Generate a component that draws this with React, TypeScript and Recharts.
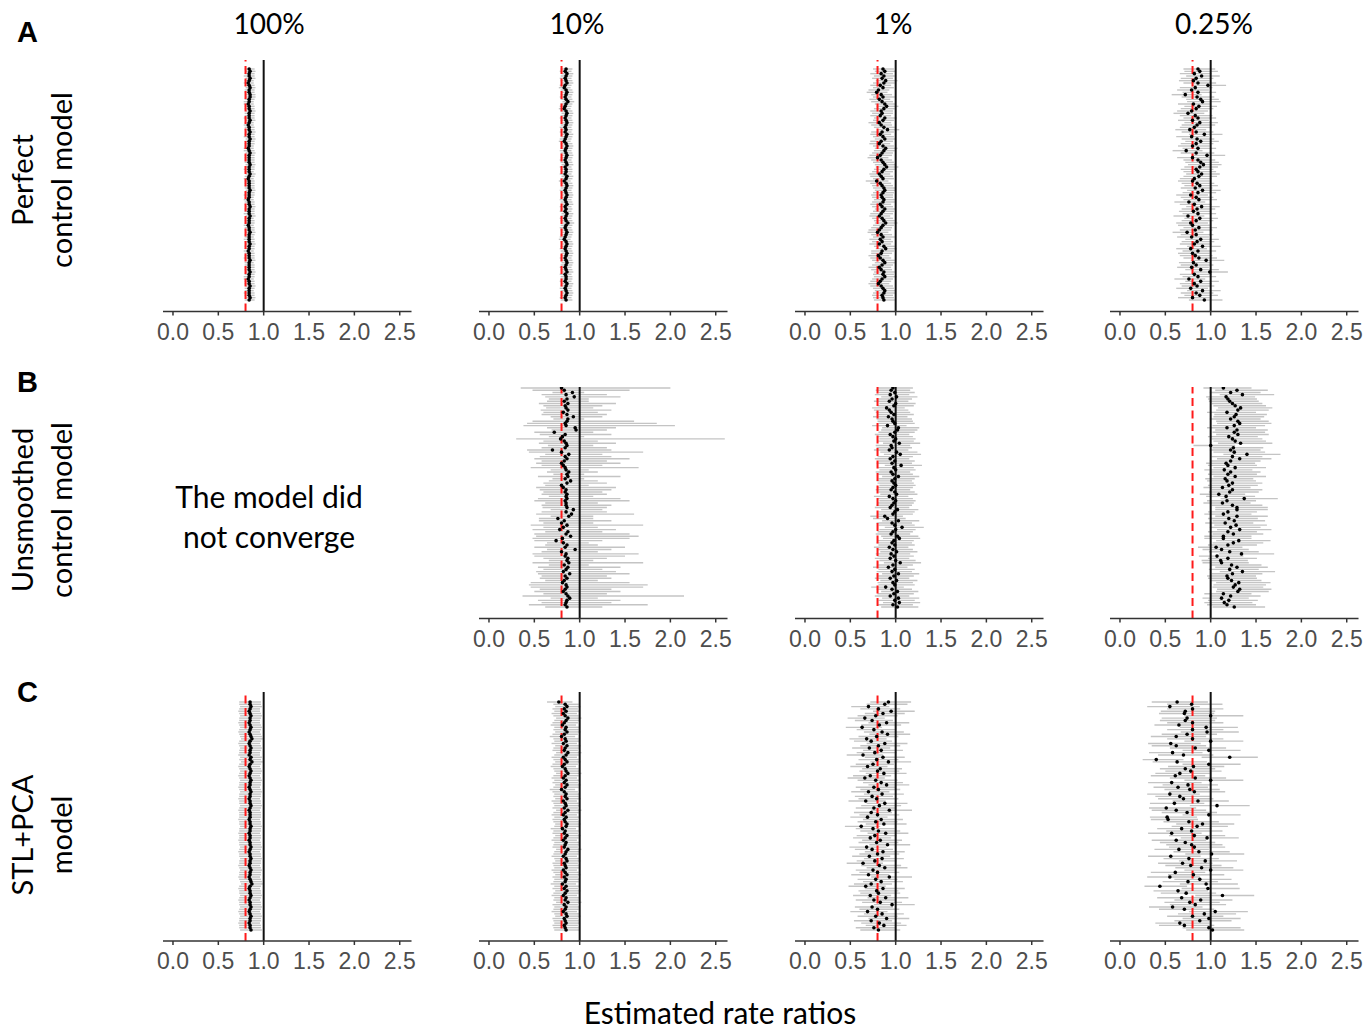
import React from 'react';
import { ScatterChart, Scatter, XAxis, YAxis, ErrorBar, ReferenceLine } from 'recharts';

// axis + reference values
const xTicks = [0, 0.5, 1, 1.5, 2, 2.5];
const nullRatio = 1;
const trueRatio = 0.8;

const columnTitles = ['100%', '10%', '1%', '0.25%'];
const rowLetters = ['A', 'B', 'C'];
const rowTitles = [
  ['Perfect', 'control model'],
  ['Unsmoothed', 'control model'],
  ['STL+PCA', 'model'],
];
const noFitText = ['The model did', 'not converge'];
const xLabel = 'Estimated rate ratios';

// ---- A: perfect control model ----
const perfect100Est = [
  0.84,0.85,0.84,0.84,0.85,0.84,0.83,0.84,0.85,0.84, 0.84,0.85,0.85,0.84,0.84,0.83,0.84,0.84,0.85,0.84,
  0.84,0.84,0.85,0.84,0.83,0.84,0.84,0.85,0.84,0.84, 0.85,0.84,0.84,0.84,0.83,0.84,0.85,0.84,0.84,0.84,
  0.84,0.85,0.84,0.84,0.84,0.85,0.84,0.83,0.84,0.84, 0.84,0.84,0.85,0.84,0.84,0.84,0.83,0.84,0.84,0.85,
  0.84,0.84,0.84,0.85,0.84,0.84,0.84,0.83,0.84,0.84, 0.85,0.84,0.84,0.84,0.84,0.85,0.84,0.84,0.83,0.84,
  0.84,0.84,0.85,0.84,0.84,0.84,0.84,0.85,0.84,0.84, 0.83,0.84,0.84,0.85,0.84,0.84,0.84,0.84,0.85,0.84,
];
const perfect100Lo = [
  0.79,0.80,0.79,0.78,0.80,0.79,0.78,0.79,0.80,0.79, 0.79,0.80,0.80,0.79,0.78,0.78,0.79,0.79,0.80,0.79,
  0.79,0.78,0.80,0.79,0.78,0.79,0.79,0.80,0.79,0.78, 0.80,0.79,0.79,0.79,0.78,0.78,0.80,0.79,0.79,0.79,
  0.79,0.80,0.79,0.78,0.79,0.80,0.79,0.78,0.79,0.79, 0.79,0.79,0.80,0.79,0.78,0.79,0.78,0.79,0.79,0.80,
  0.79,0.79,0.78,0.80,0.79,0.79,0.79,0.78,0.79,0.79, 0.80,0.79,0.79,0.78,0.79,0.80,0.79,0.79,0.78,0.79,
  0.79,0.78,0.80,0.79,0.79,0.79,0.79,0.80,0.79,0.78, 0.78,0.79,0.79,0.80,0.79,0.79,0.78,0.79,0.80,0.79,
];
const perfect100Hi = [
  0.90,0.91,0.90,0.90,0.91,0.89,0.89,0.90,0.91,0.90, 0.90,0.91,0.91,0.90,0.89,0.89,0.90,0.90,0.91,0.90,
  0.90,0.90,0.91,0.89,0.89,0.90,0.90,0.91,0.90,0.90, 0.91,0.90,0.90,0.89,0.89,0.90,0.91,0.90,0.90,0.90,
  0.90,0.91,0.90,0.90,0.89,0.91,0.90,0.89,0.90,0.90, 0.90,0.90,0.91,0.90,0.90,0.89,0.89,0.90,0.90,0.91,
  0.90,0.90,0.90,0.91,0.89,0.90,0.90,0.89,0.90,0.90, 0.91,0.90,0.89,0.90,0.90,0.91,0.90,0.90,0.89,0.90,
  0.90,0.90,0.91,0.89,0.90,0.90,0.90,0.91,0.90,0.90, 0.89,0.90,0.90,0.91,0.90,0.89,0.90,0.90,0.91,0.90,
];

const perfect10Est = [
  0.85,0.84,0.86,0.85,0.84,0.85,0.86,0.84,0.83,0.85, 0.86,0.85,0.84,0.85,0.87,0.85,0.84,0.83,0.85,0.86,
  0.85,0.84,0.85,0.86,0.85,0.84,0.85,0.84,0.86,0.85, 0.84,0.83,0.85,0.86,0.85,0.84,0.85,0.86,0.85,0.84,
  0.85,0.86,0.84,0.85,0.85,0.84,0.86,0.85,0.83,0.85, 0.86,0.85,0.84,0.85,0.86,0.85,0.84,0.85,0.86,0.84,
  0.85,0.84,0.86,0.85,0.84,0.85,0.87,0.85,0.84,0.85, 0.86,0.85,0.84,0.83,0.85,0.86,0.85,0.84,0.85,0.86,
  0.85,0.84,0.85,0.86,0.85,0.84,0.85,0.86,0.84,0.85, 0.85,0.84,0.86,0.85,0.84,0.85,0.86,0.85,0.84,0.85,
];
const perfect10Lo = [
  0.79,0.78,0.80,0.79,0.78,0.79,0.80,0.78,0.77,0.79, 0.80,0.79,0.78,0.79,0.81,0.79,0.78,0.77,0.79,0.80,
  0.79,0.78,0.79,0.80,0.79,0.78,0.79,0.78,0.80,0.79, 0.78,0.77,0.79,0.80,0.79,0.78,0.79,0.80,0.79,0.78,
  0.79,0.80,0.78,0.79,0.79,0.78,0.80,0.79,0.77,0.79, 0.80,0.79,0.78,0.79,0.80,0.79,0.78,0.79,0.80,0.78,
  0.79,0.78,0.80,0.79,0.78,0.79,0.81,0.79,0.78,0.79, 0.80,0.79,0.78,0.77,0.79,0.80,0.79,0.78,0.79,0.80,
  0.79,0.78,0.79,0.80,0.79,0.78,0.79,0.80,0.78,0.79, 0.79,0.78,0.80,0.79,0.78,0.79,0.80,0.79,0.78,0.79,
];
const perfect10Hi = [
  0.92,0.91,0.93,0.92,0.91,0.92,0.93,0.91,0.90,0.92, 0.93,0.92,0.91,0.92,0.94,0.92,0.91,0.90,0.92,0.93,
  0.92,0.91,0.92,0.93,0.92,0.91,0.92,0.91,0.93,0.92, 0.91,0.90,0.92,0.93,0.92,0.91,0.92,0.93,0.92,0.91,
  0.92,0.93,0.91,0.92,0.92,0.91,0.93,0.92,0.90,0.92, 0.93,0.92,0.91,0.92,0.93,0.92,0.91,0.92,0.93,0.91,
  0.92,0.91,0.93,0.92,0.91,0.92,0.94,0.92,0.91,0.92, 0.93,0.92,0.91,0.90,0.92,0.93,0.92,0.91,0.92,0.93,
  0.92,0.91,0.92,0.93,0.92,0.91,0.92,0.93,0.91,0.92, 0.92,0.91,0.93,0.92,0.91,0.92,0.93,0.92,0.91,0.92,
];

const perfect1Est = [
  0.86,0.88,0.84,0.87,0.85,0.89,0.87,0.83,0.86,0.81, 0.79,0.84,0.86,0.82,0.85,0.88,0.90,0.87,0.84,0.85,
  0.83,0.88,0.86,0.82,0.84,0.87,0.91,0.85,0.83,0.86, 0.88,0.84,0.82,0.86,0.89,0.87,0.85,0.83,0.80,0.84,
  0.86,0.88,0.90,0.87,0.85,0.82,0.84,0.86,0.79,0.83, 0.85,0.87,0.88,0.86,0.84,0.85,0.87,0.86,0.83,0.85,
  0.88,0.86,0.84,0.82,0.85,0.87,0.89,0.86,0.84,0.82, 0.80,0.84,0.86,0.83,0.85,0.82,0.87,0.89,0.85,0.84,
  0.81,0.83,0.86,0.88,0.85,0.82,0.84,0.87,0.86,0.88, 0.85,0.83,0.81,0.84,0.86,0.88,0.87,0.85,0.86,0.87,
];
const perfect1Lo = [
  0.75,0.77,0.72,0.76,0.74,0.78,0.75,0.72,0.75,0.70, 0.68,0.73,0.75,0.71,0.73,0.77,0.79,0.76,0.72,0.74,
  0.72,0.76,0.75,0.70,0.73,0.76,0.80,0.73,0.72,0.75, 0.77,0.72,0.71,0.75,0.77,0.76,0.74,0.71,0.69,0.73,
  0.75,0.77,0.78,0.76,0.74,0.71,0.72,0.75,0.67,0.72, 0.74,0.75,0.77,0.75,0.73,0.74,0.76,0.74,0.72,0.74,
  0.77,0.75,0.72,0.71,0.74,0.76,0.77,0.75,0.73,0.70, 0.69,0.73,0.75,0.71,0.74,0.71,0.76,0.78,0.73,0.73,
  0.70,0.72,0.74,0.77,0.74,0.70,0.73,0.76,0.75,0.76, 0.74,0.72,0.70,0.72,0.75,0.77,0.75,0.74,0.75,0.76,
];
const perfect1Hi = [
  0.98,1.00,0.97,0.99,0.97,1.02,0.99,0.95,0.98,0.93, 0.91,0.96,0.99,0.94,0.97,1.00,1.03,0.99,0.97,0.97,
  0.95,1.01,0.98,0.95,0.96,0.99,1.04,0.98,0.95,0.98, 1.00,0.97,0.94,0.98,1.02,0.99,0.97,0.96,0.92,0.96,
  0.98,1.00,1.03,0.99,0.97,0.94,0.97,0.98,0.92,0.95, 0.97,1.00,1.00,0.98,0.97,0.97,0.99,0.99,0.95,0.97,
  1.00,0.98,0.97,0.94,0.97,0.99,1.02,0.98,0.96,0.95, 0.92,0.96,0.99,0.95,0.97,0.95,0.99,1.01,0.98,0.96,
  0.93,0.95,0.99,1.00,0.97,0.95,0.96,0.99,0.98,1.01, 0.97,0.95,0.93,0.97,0.98,1.00,1.00,0.97,0.98,0.99,
];

const perfect025Est = [
  0.86,0.88,0.82,0.90,0.84,0.81,0.86,0.97,0.83,0.79, 0.86,0.72,0.85,0.89,0.91,0.81,0.87,0.84,0.79,0.75,
  0.83,0.86,0.80,0.88,0.85,0.82,0.77,0.84,0.93,0.79, 0.85,0.89,0.84,0.80,0.86,0.73,0.84,0.96,0.80,0.86,
  0.89,0.92,0.88,0.84,0.86,0.90,0.87,0.82,0.80,0.85, 0.88,0.83,0.91,0.86,0.78,0.84,0.87,0.76,0.82,0.90,
  0.85,0.81,0.86,0.75,0.88,0.84,0.78,0.80,0.87,0.83, 0.74,0.84,0.79,0.89,0.85,0.82,0.91,0.78,0.86,0.80,
  0.83,0.87,0.95,0.81,0.84,0.79,0.89,0.99,0.82,0.86, 0.76,0.89,0.82,0.85,0.78,0.91,0.84,0.88,0.80,0.93,
];
const perfect025Lo = [
  0.70,0.71,0.66,0.73,0.67,0.65,0.70,0.80,0.66,0.63, 0.69,0.57,0.68,0.73,0.74,0.64,0.71,0.67,0.63,0.59,
  0.66,0.70,0.64,0.71,0.68,0.66,0.61,0.68,0.76,0.62, 0.68,0.72,0.67,0.64,0.69,0.58,0.67,0.79,0.63,0.70,
  0.72,0.75,0.71,0.67,0.70,0.73,0.70,0.66,0.64,0.68, 0.71,0.67,0.74,0.69,0.62,0.67,0.70,0.60,0.66,0.73,
  0.68,0.65,0.69,0.59,0.71,0.68,0.62,0.64,0.70,0.66, 0.58,0.67,0.63,0.72,0.68,0.66,0.74,0.62,0.69,0.64,
  0.66,0.70,0.78,0.65,0.67,0.63,0.72,0.81,0.66,0.69, 0.60,0.72,0.66,0.68,0.62,0.74,0.67,0.71,0.64,0.76,
];
const perfect025Hi = [
  1.05,1.08,1.01,1.10,1.03,0.99,1.06,1.17,1.02,0.98, 1.06,0.90,1.04,1.09,1.11,1.00,1.07,1.03,0.97,0.93,
  1.02,1.06,0.98,1.08,1.05,1.01,0.95,1.03,1.13,0.98, 1.04,1.09,1.03,0.99,1.06,0.91,1.04,1.16,0.99,1.05,
  1.09,1.12,1.08,1.03,1.06,1.10,1.07,1.01,0.99,1.04, 1.08,1.02,1.11,1.06,0.97,1.03,1.07,0.94,1.01,1.10,
  1.05,1.00,1.06,0.93,1.08,1.03,0.97,0.99,1.07,1.02, 0.92,1.03,0.98,1.09,1.04,1.01,1.11,0.96,1.06,0.99,
  1.02,1.07,1.15,1.00,1.03,0.98,1.09,1.19,1.01,1.06, 0.94,1.09,1.01,1.04,0.97,1.11,1.03,1.08,0.99,1.13,
];

// ---- B: unsmoothed control model (100% did not converge) ----
const unsmoothed10Est = [
  0.80,0.83,0.92,0.85,0.94,0.86,0.83,0.87,0.84,0.85, 0.87,0.82,0.86,0.93,0.87,0.86,0.84,0.85,0.95,0.96,
  0.72,0.84,0.81,0.79,0.83,0.85,0.86,0.84,0.70,0.80, 0.88,0.84,0.86,0.83,0.80,0.82,0.84,0.85,0.88,0.86,
  0.87,0.84,0.90,0.86,0.80,0.82,0.85,0.84,0.86,0.85, 0.86,0.84,0.85,0.85,0.86,0.93,0.85,0.91,0.88,0.76,
  0.83,0.80,0.86,0.82,0.78,0.87,0.85,0.90,0.81,0.74, 0.82,0.86,0.84,0.95,0.80,0.85,0.84,0.87,0.86,0.88,
  0.83,0.87,0.85,0.82,0.89,0.84,0.86,0.83,0.81,0.85, 0.86,0.84,0.82,0.85,0.87,0.89,0.86,0.85,0.84,0.86,
];
const unsmoothed10Lo = [
  0.35,0.48,0.70,0.58,0.62,0.66,0.64,0.55,0.60,0.63, 0.57,0.60,0.58,0.68,0.71,0.48,0.42,0.38,0.64,0.69,
  0.50,0.56,0.66,0.30,0.60,0.55,0.65,0.58,0.42,0.44, 0.62,0.56,0.50,0.58,0.52,0.58,0.46,0.68,0.64,0.71,
  0.54,0.70,0.66,0.60,0.62,0.52,0.56,0.60,0.58,0.66, 0.54,0.50,0.62,0.58,0.59,0.68,0.58,0.52,0.68,0.55,
  0.55,0.60,0.46,0.60,0.48,0.62,0.50,0.52,0.48,0.50, 0.64,0.62,0.50,0.64,0.58,0.48,0.50,0.60,0.66,0.48,
  0.66,0.54,0.60,0.52,0.54,0.58,0.56,0.62,0.46,0.44, 0.46,0.56,0.50,0.60,0.37,0.68,0.54,0.58,0.44,0.62,
];
const unsmoothed10Hi = [
  2.00,1.55,1.05,1.30,1.45,1.10,1.10,1.40,1.25,1.15, 1.35,1.20,1.30,1.25,1.05,1.60,1.85,2.05,1.40,1.30,
  1.15,1.35,1.05,2.60,1.20,1.40,1.15,1.30,1.35,1.70, 1.25,1.35,1.55,1.30,1.45,1.25,1.65,1.10,1.20,1.05,
  1.45,1.05,1.20,1.30,1.10,1.40,1.35,1.25,1.30,1.15, 1.45,1.55,1.20,1.35,1.30,1.25,1.30,1.60,1.15,1.15,
  1.35,1.15,1.70,1.20,1.40,1.25,1.55,1.65,1.55,1.25, 1.10,1.20,1.50,1.35,1.20,1.65,1.50,1.30,1.15,1.70,
  1.10,1.45,1.25,1.40,1.55,1.30,1.35,1.20,1.55,1.75, 1.70,1.35,1.45,1.30,2.15,1.20,1.45,1.35,1.75,1.25,
];

const unsmoothed1Est = [
  0.97,0.95,0.99,0.94,1.01,0.96,0.93,1.00,0.98,0.90, 0.93,0.95,0.98,0.92,0.96,0.97,0.99,0.91,1.03,1.02,
  0.99,0.94,0.97,1.00,0.98,1.04,0.95,0.96,0.93,1.01, 1.05,0.97,0.94,0.99,0.96,1.06,0.98,1.00,0.95,0.97,
  1.03,0.99,0.96,0.98,1.00,0.97,0.95,0.99,1.01,0.93, 0.97,1.00,0.98,0.96,0.94,1.02,0.99,0.97,0.88,0.91,
  1.03,0.96,0.99,1.07,1.00,0.97,0.95,1.02,1.04,0.98, 0.96,0.99,0.93,0.97,1.01,0.95,0.98,0.94,1.00,1.05,
  0.97,0.92,0.99,0.96,1.03,0.98,0.94,1.01,0.97,0.99, 0.89,0.96,1.02,0.98,0.94,1.03,0.99,1.04,0.97,1.02,
];
const unsmoothed1Lo = [
  0.80,0.78,0.81,0.77,0.84,0.79,0.76,0.82,0.80,0.74, 0.76,0.78,0.80,0.75,0.79,0.80,0.81,0.74,0.85,0.84,
  0.81,0.77,0.80,0.82,0.80,0.86,0.78,0.79,0.76,0.83, 0.87,0.80,0.77,0.81,0.79,0.88,0.80,0.82,0.78,0.80,
  0.85,0.81,0.79,0.80,0.82,0.80,0.78,0.81,0.83,0.76, 0.80,0.82,0.80,0.79,0.77,0.84,0.81,0.80,0.72,0.75,
  0.85,0.79,0.81,0.88,0.82,0.80,0.78,0.84,0.86,0.80, 0.79,0.81,0.76,0.80,0.83,0.78,0.80,0.77,0.82,0.87,
  0.80,0.75,0.81,0.79,0.85,0.80,0.77,0.83,0.80,0.81, 0.73,0.79,0.84,0.80,0.77,0.85,0.81,0.86,0.80,0.84,
];
const unsmoothed1Hi = [
  1.19,1.16,1.21,1.15,1.24,1.18,1.14,1.22,1.20,1.10, 1.14,1.16,1.20,1.13,1.18,1.19,1.21,1.12,1.26,1.24,
  1.21,1.15,1.19,1.22,1.20,1.27,1.16,1.18,1.14,1.24, 1.28,1.19,1.15,1.21,1.18,1.29,1.20,1.22,1.16,1.19,
  1.26,1.21,1.18,1.20,1.22,1.19,1.16,1.21,1.24,1.14, 1.19,1.22,1.20,1.18,1.15,1.25,1.21,1.19,1.08,1.11,
  1.26,1.18,1.21,1.31,1.22,1.19,1.16,1.25,1.27,1.20, 1.18,1.21,1.14,1.19,1.24,1.16,1.20,1.15,1.22,1.28,
  1.19,1.13,1.21,1.18,1.26,1.20,1.15,1.24,1.19,1.21, 1.09,1.18,1.25,1.20,1.15,1.26,1.21,1.27,1.19,1.25,
];

const unsmoothed025Est = [
  1.14,1.29,1.22,1.35,1.17,1.19,1.21,1.24,1.27,1.33, 1.30,1.18,1.28,1.26,1.22,1.30,1.32,1.26,1.18,1.29,
  1.26,1.30,1.20,1.24,1.27,1.33,1.00,1.25,1.22,1.26, 1.40,1.24,1.32,1.22,1.17,1.19,1.27,1.15,1.22,1.19,
  1.27,1.16,1.18,1.24,1.20,1.13,1.24,1.21,1.09,1.17, 1.37,1.18,1.13,1.24,1.29,1.29,1.19,1.14,1.29,1.20,
  1.26,1.16,1.28,1.22,1.32,1.19,1.25,1.14,1.14,1.31, 1.25,1.19,1.06,1.12,1.21,1.34,1.07,1.19,1.11,1.12,
  1.23,1.29,1.21,1.35,1.24,1.18,1.19,1.23,1.31,1.27, 1.25,1.32,1.30,1.14,1.22,1.12,1.20,1.15,1.18,1.26,
];
const unsmoothed025Lo = [
  0.92,1.05,0.99,1.10,0.95,0.97,0.98,1.01,1.03,1.08, 1.06,0.96,1.04,1.03,0.99,1.06,1.07,1.02,0.96,1.05,
  1.02,1.06,0.97,1.01,1.03,1.08,0.81,1.02,0.99,1.03, 1.14,1.01,1.07,0.99,0.95,0.97,1.03,0.93,0.99,0.97,
  1.03,0.94,0.96,1.01,0.97,0.92,1.01,0.98,0.88,0.95, 1.11,0.96,0.92,1.01,1.05,1.05,0.97,0.93,1.05,0.97,
  1.02,0.94,1.04,0.99,1.07,0.97,1.02,0.93,0.93,1.06, 1.02,0.97,0.86,0.91,0.98,1.09,0.87,0.97,0.90,0.91,
  1.00,1.05,0.98,1.10,1.01,0.96,0.97,1.00,1.06,1.03, 1.02,1.07,1.06,0.93,0.99,0.91,0.97,0.93,0.96,1.02,
];
const unsmoothed025Hi = [
  1.45,1.63,1.55,1.70,1.49,1.51,1.53,1.57,1.61,1.68, 1.64,1.50,1.62,1.59,1.55,1.64,1.67,1.60,1.50,1.63,
  1.60,1.64,1.52,1.57,1.61,1.68,1.27,1.58,1.55,1.60, 1.77,1.57,1.67,1.55,1.49,1.51,1.61,1.46,1.55,1.51,
  1.61,1.47,1.50,1.57,1.52,1.44,1.57,1.53,1.38,1.49, 1.74,1.50,1.44,1.57,1.63,1.63,1.51,1.45,1.63,1.52,
  1.60,1.47,1.62,1.55,1.67,1.51,1.58,1.45,1.45,1.66, 1.58,1.51,1.35,1.42,1.53,1.70,1.36,1.51,1.41,1.42,
  1.56,1.63,1.53,1.71,1.57,1.50,1.51,1.56,1.66,1.61, 1.58,1.67,1.64,1.45,1.55,1.42,1.52,1.46,1.50,1.60,
];

// ---- C: STL+PCA model ----
const stlpca100Est = [
  0.85,0.85,0.86,0.85,0.84,0.85,0.86,0.85,0.85,0.84, 0.85,0.86,0.85,0.84,0.85,0.86,0.87,0.85,0.84,0.85,
  0.86,0.85,0.85,0.84,0.86,0.85,0.87,0.85,0.84,0.85, 0.86,0.85,0.84,0.85,0.86,0.85,0.85,0.84,0.85,0.86,
  0.85,0.85,0.84,0.85,0.85,0.86,0.85,0.84,0.85,0.85, 0.85,0.84,0.85,0.85,0.86,0.85,0.85,0.84,0.85,0.85,
  0.84,0.85,0.85,0.86,0.85,0.84,0.85,0.85,0.86,0.85, 0.85,0.84,0.85,0.86,0.85,0.85,0.84,0.85,0.86,0.87,
  0.85,0.84,0.85,0.85,0.86,0.85,0.84,0.85,0.85,0.86, 0.85,0.84,0.85,0.86,0.85,0.85,0.84,0.85,0.85,0.86,
];
const stlpca100Lo = [
  0.73,0.73,0.74,0.73,0.72,0.73,0.74,0.73,0.73,0.72, 0.73,0.74,0.73,0.72,0.73,0.74,0.75,0.73,0.72,0.73,
  0.74,0.73,0.73,0.72,0.74,0.73,0.75,0.73,0.72,0.73, 0.74,0.73,0.72,0.73,0.74,0.73,0.73,0.72,0.73,0.74,
  0.73,0.73,0.72,0.73,0.73,0.74,0.73,0.72,0.73,0.73, 0.73,0.72,0.73,0.73,0.74,0.73,0.73,0.72,0.73,0.73,
  0.72,0.73,0.73,0.74,0.73,0.72,0.73,0.73,0.74,0.73, 0.73,0.72,0.73,0.74,0.73,0.73,0.72,0.73,0.74,0.75,
  0.73,0.72,0.73,0.73,0.74,0.73,0.72,0.73,0.73,0.74, 0.73,0.72,0.73,0.74,0.73,0.73,0.72,0.73,0.73,0.74,
];
const stlpca100Hi = [
  0.97,0.97,0.98,0.96,0.96,0.97,0.98,0.97,0.96,0.96, 0.97,0.98,0.97,0.96,0.97,0.98,0.99,0.97,0.96,0.97,
  0.98,0.97,0.96,0.96,0.98,0.97,0.99,0.97,0.96,0.97, 0.98,0.97,0.96,0.97,0.98,0.97,0.97,0.96,0.97,0.98,
  0.97,0.97,0.96,0.97,0.97,0.98,0.97,0.96,0.97,0.97, 0.97,0.96,0.97,0.97,0.98,0.97,0.97,0.96,0.97,0.97,
  0.96,0.97,0.97,0.98,0.97,0.96,0.97,0.97,0.98,0.97, 0.97,0.96,0.97,0.98,0.97,0.97,0.96,0.97,0.98,0.99,
  0.97,0.96,0.97,0.97,0.98,0.97,0.96,0.97,0.97,0.98, 0.97,0.96,0.97,0.98,0.97,0.97,0.96,0.97,0.97,0.98,
];

const stlpca10Est = [
  0.77,0.84,0.86,0.83,0.85,0.82,0.84,0.87,0.85,0.83, 0.81,0.85,0.84,0.86,0.83,0.80,0.84,0.85,0.82,0.86,
  0.84,0.83,0.87,0.85,0.82,0.84,0.86,0.83,0.81,0.84, 0.85,0.87,0.84,0.82,0.85,0.83,0.86,0.84,0.80,0.83,
  0.85,0.84,0.86,0.82,0.84,0.85,0.83,0.87,0.84,0.82, 0.85,0.83,0.84,0.86,0.85,0.81,0.84,0.83,0.86,0.84,
  0.82,0.85,0.84,0.83,0.87,0.85,0.84,0.82,0.85,0.86, 0.83,0.84,0.85,0.82,0.84,0.86,0.83,0.85,0.84,0.81,
  0.85,0.83,0.86,0.84,0.82,0.85,0.84,0.87,0.83,0.85, 0.84,0.82,0.85,0.86,0.83,0.84,0.85,0.83,0.84,0.85,
];
const stlpca10Lo = [
  0.64,0.71,0.73,0.70,0.72,0.69,0.71,0.74,0.72,0.70, 0.68,0.72,0.71,0.73,0.70,0.67,0.71,0.72,0.69,0.73,
  0.71,0.70,0.74,0.72,0.69,0.71,0.73,0.70,0.68,0.71, 0.72,0.74,0.71,0.69,0.72,0.70,0.73,0.71,0.67,0.70,
  0.72,0.71,0.73,0.69,0.71,0.72,0.70,0.74,0.71,0.69, 0.72,0.70,0.71,0.73,0.72,0.68,0.71,0.70,0.73,0.71,
  0.69,0.72,0.71,0.70,0.74,0.72,0.71,0.69,0.72,0.73, 0.70,0.71,0.72,0.69,0.71,0.73,0.70,0.72,0.71,0.68,
  0.72,0.70,0.73,0.71,0.69,0.72,0.71,0.74,0.70,0.72, 0.71,0.69,0.72,0.73,0.70,0.71,0.72,0.70,0.71,0.72,
];
const stlpca10Hi = [
  0.92,0.99,1.01,0.98,1.00,0.97,0.99,1.02,1.00,0.98, 0.96,1.00,0.99,1.01,0.98,0.95,0.99,1.00,0.97,1.01,
  0.99,0.98,1.02,1.00,0.97,0.99,1.01,0.98,0.96,0.99, 1.00,1.02,0.99,0.97,1.00,0.98,1.01,0.99,0.95,0.98,
  1.00,0.99,1.01,0.97,0.99,1.00,0.98,1.02,0.99,0.97, 1.00,0.98,0.99,1.01,1.00,0.96,0.99,0.98,1.01,0.99,
  0.97,1.00,0.99,0.98,1.02,1.00,0.99,0.97,1.00,1.01, 0.98,0.99,1.00,0.97,0.99,1.01,0.98,1.00,0.99,0.96,
  1.00,0.98,1.01,0.99,0.97,1.00,0.99,1.02,0.98,1.00, 0.99,0.97,1.00,1.01,0.98,0.99,1.00,0.98,0.99,1.00,
];

const stlpca1Est = [
  0.92,0.88,0.70,0.81,0.95,0.86,0.78,0.66,0.74,0.90, 0.82,0.63,0.76,0.85,0.91,0.79,0.68,0.73,0.88,0.81,
  0.71,0.84,0.77,0.64,0.86,0.79,0.92,0.75,0.69,0.83, 0.80,0.87,0.72,0.66,0.78,0.84,0.90,0.76,0.81,0.70,
  0.85,0.74,0.79,0.67,0.88,0.82,0.76,0.93,0.73,0.80, 0.69,0.84,0.78,0.87,0.62,0.75,0.81,0.89,0.77,0.72,
  0.83,0.79,0.91,0.68,0.74,0.86,0.80,0.71,0.85,0.77, 0.64,0.82,0.88,0.75,0.80,0.70,0.93,0.78,0.84,0.73,
  0.67,0.86,0.79,0.81,0.72,0.89,0.76,0.83,0.96,0.74, 0.80,0.69,0.85,0.78,0.90,0.73,0.82,0.87,0.76,0.81,
];
const stlpca1Lo = [
  0.72,0.68,0.51,0.61,0.75,0.66,0.58,0.47,0.55,0.70, 0.62,0.45,0.57,0.65,0.71,0.59,0.49,0.54,0.68,0.61,
  0.52,0.64,0.57,0.46,0.66,0.59,0.72,0.56,0.50,0.63, 0.60,0.67,0.53,0.47,0.58,0.64,0.70,0.56,0.61,0.51,
  0.65,0.55,0.59,0.48,0.68,0.62,0.56,0.73,0.54,0.60, 0.50,0.64,0.58,0.67,0.44,0.56,0.61,0.69,0.57,0.53,
  0.63,0.59,0.71,0.49,0.55,0.66,0.60,0.52,0.65,0.57, 0.46,0.62,0.68,0.56,0.60,0.51,0.73,0.58,0.64,0.54,
  0.48,0.66,0.59,0.61,0.53,0.69,0.56,0.63,0.76,0.55, 0.60,0.50,0.65,0.58,0.70,0.54,0.62,0.67,0.56,0.61,
];
const stlpca1Hi = [
  1.17,1.13,0.93,1.05,1.21,1.10,1.02,0.88,0.97,1.15, 1.06,0.85,1.00,1.09,1.16,1.03,0.90,0.96,1.13,1.05,
  0.94,1.08,1.01,0.86,1.10,1.03,1.17,0.98,0.91,1.07, 1.04,1.12,0.95,0.88,1.02,1.08,1.15,1.00,1.05,0.93,
  1.09,0.97,1.03,0.89,1.13,1.06,1.00,1.18,0.96,1.04, 0.91,1.08,1.02,1.12,0.83,0.99,1.05,1.14,1.01,0.95,
  1.07,1.03,1.16,0.90,0.97,1.10,1.04,0.94,1.09,1.01, 0.86,1.06,1.13,0.99,1.04,0.93,1.18,1.02,1.08,0.96,
  0.89,1.10,1.03,1.05,0.95,1.14,1.00,1.07,1.21,0.97, 1.04,0.91,1.09,1.02,1.15,0.96,1.06,1.12,1.00,1.05,
];

const stlpca025Est = [
  0.63,0.79,0.55,0.80,0.72,0.71,1.00,0.74,0.72,0.80, 0.65,0.95,0.80,0.96,0.74,0.62,0.80,1.00,0.56,0.62,
  0.83,0.98,0.58,0.70,1.21,0.40,0.63,0.98,0.81,0.72, 0.78,0.66,0.61,0.83,1.00,0.57,0.75,0.64,0.77,0.82,
  0.55,0.66,0.70,0.86,0.60,1.07,0.51,0.62,0.74,0.98, 0.52,0.53,0.76,0.91,0.85,0.68,0.79,0.57,0.82,0.96,
  0.62,0.72,0.79,0.82,0.65,0.87,1.01,0.56,0.76,0.94, 0.69,0.78,0.90,1.00,0.61,0.81,0.55,0.88,0.75,0.95,
  0.44,0.97,0.64,0.73,1.13,0.68,0.89,0.77,0.83,0.58, 0.71,1.05,0.93,0.80,0.98,0.88,0.66,0.71,0.98,1.02,
];
const stlpca025Lo = [
  0.35,0.52,0.30,0.52,0.45,0.43,0.71,0.46,0.44,0.52, 0.38,0.66,0.52,0.67,0.46,0.34,0.52,0.71,0.31,0.35,
  0.55,0.69,0.32,0.42,0.90,0.25,0.36,0.69,0.53,0.44, 0.50,0.39,0.34,0.55,0.71,0.31,0.47,0.37,0.49,0.54,
  0.30,0.39,0.42,0.58,0.33,0.77,0.32,0.35,0.46,0.69, 0.33,0.34,0.48,0.62,0.57,0.41,0.51,0.31,0.54,0.67,
  0.35,0.44,0.51,0.54,0.38,0.59,0.72,0.31,0.48,0.65, 0.42,0.50,0.61,0.71,0.34,0.53,0.30,0.60,0.47,0.66,
  0.27,0.68,0.37,0.45,0.83,0.41,0.60,0.49,0.55,0.32, 0.43,0.76,0.64,0.52,0.69,0.60,0.39,0.43,0.69,0.73,
];
const stlpca025Hi = [
  0.97,1.13,0.88,1.14,1.05,1.04,1.36,1.07,1.05,1.14, 0.98,1.30,1.14,1.31,1.07,0.95,1.14,1.36,0.89,0.95,
  1.17,1.33,0.91,1.03,1.52,0.70,0.96,1.33,1.15,1.05, 1.12,0.99,0.94,1.17,1.36,0.90,1.08,0.97,1.10,1.16,
  0.88,0.99,1.03,1.20,0.93,1.43,0.84,0.95,1.07,1.33, 0.85,0.86,1.09,1.26,1.19,1.01,1.13,0.90,1.16,1.31,
  0.95,1.05,1.13,1.16,0.98,1.21,1.37,0.89,1.09,1.29, 1.02,1.12,1.25,1.36,0.94,1.15,0.88,1.23,1.08,1.30,
  0.74,1.32,0.97,1.06,1.48,1.01,1.24,1.10,1.17,0.91, 1.04,1.41,1.28,1.14,1.33,1.23,0.99,1.04,1.33,1.37,
];

type Panel = { row: number; col: number; est: number[]; lo: number[]; hi: number[] };

const panels: Panel[] = [
  { row: 0, col: 0, est: perfect100Est, lo: perfect100Lo, hi: perfect100Hi },
  { row: 0, col: 1, est: perfect10Est, lo: perfect10Lo, hi: perfect10Hi },
  { row: 0, col: 2, est: perfect1Est, lo: perfect1Lo, hi: perfect1Hi },
  { row: 0, col: 3, est: perfect025Est, lo: perfect025Lo, hi: perfect025Hi },
  { row: 1, col: 1, est: unsmoothed10Est, lo: unsmoothed10Lo, hi: unsmoothed10Hi },
  { row: 1, col: 2, est: unsmoothed1Est, lo: unsmoothed1Lo, hi: unsmoothed1Hi },
  { row: 1, col: 3, est: unsmoothed025Est, lo: unsmoothed025Lo, hi: unsmoothed025Hi },
  { row: 2, col: 0, est: stlpca100Est, lo: stlpca100Lo, hi: stlpca100Hi },
  { row: 2, col: 1, est: stlpca10Est, lo: stlpca10Lo, hi: stlpca10Hi },
  { row: 2, col: 2, est: stlpca1Est, lo: stlpca1Lo, hi: stlpca1Hi },
  { row: 2, col: 3, est: stlpca025Est, lo: stlpca025Lo, hi: stlpca025Hi },
];

// layout (pixels)
const UNIT = 90.7;
const X_MIN = -0.11;
const X_MAX = 2.63;
const colZero = [173.3, 489, 804.5, 1120];
const colTitleX = [269, 577, 893, 1214];
const rowBox = [
  { top: 60, axis: 311.5, first: 69, last: 300, letterY: 42, titleY: 180 },
  { top: 387, axis: 618.5, first: 388, last: 607, letterY: 392, titleY: 510 },
  { top: 692, axis: 941, first: 702, last: 930, letterY: 702, titleY: 835 },
];
const PAD = 30;
const AXIS_H = 40;
const LABEL_FONT = 'Lato, "Open Sans", sans-serif';
const TICK_FONT = '"Liberation Sans", Arial, sans-serif';

const Dot = (props: any) => <circle cx={props.cx} cy={props.cy} r={1.8} fill="#000" />;

function ForestPanel({ panel }: { panel: Panel }) {
  const box = rowBox[panel.row];
  const n = panel.est.length;
  const step = (box.last - box.first) / (n - 1);
  const yMin = 1 - (box.first - box.top) / step;
  const yMax = n + (box.axis - box.last) / step;
  const plotW = (X_MAX - X_MIN) * UNIT;
  const left = colZero[panel.col] + X_MIN * UNIT - PAD;
  const data = panel.est.map((e, i) => ({
    x: e,
    y: i + 1,
    err: [e - panel.lo[i], panel.hi[i] - e],
  }));

  return (
    <div style={{ position: 'absolute', left, top: box.top }}>
      <ScatterChart
        width={plotW + 2 * PAD}
        height={box.axis - box.top + AXIS_H}
        margin={{ top: 0, right: PAD, bottom: 0, left: PAD }}
      >
        <XAxis
          type="number"
          dataKey="x"
          domain={[X_MIN, X_MAX]}
          ticks={xTicks}
          interval={0}
          allowDataOverflow
          tickFormatter={(v: number) => v.toFixed(1)}
          height={AXIS_H}
          tickSize={4}
          tickMargin={8}
          axisLine={{ stroke: '#333', strokeWidth: 1.5 }}
          tickLine={{ stroke: '#333', strokeWidth: 1.5 }}
          tick={{ fill: '#4d4d4d', fontSize: 23, fontFamily: TICK_FONT }}
        />
        <YAxis type="number" dataKey="y" domain={[yMin, yMax]} reversed hide allowDataOverflow width={0} />
        <Scatter data={data} isAnimationActive={false} shape={Dot}>
          <ErrorBar dataKey="err" direction="x" width={0} stroke="#c4c4c4" strokeWidth={1.4} isAnimationActive={false} />
        </Scatter>
        <ReferenceLine x={nullRatio} stroke="#111" strokeWidth={2} />
        <ReferenceLine x={trueRatio} stroke="#ff1a1a" strokeWidth={2} strokeDasharray="8 4.5" />
      </ScatterChart>
    </div>
  );
}

export default function App() {
  return (
    <div
      style={{
        position: 'absolute',
        left: 0,
        top: 0,
        width: 1368,
        height: 1030,
        overflow: 'hidden',
        background: '#fff',
      }}
    >
      {panels.map((p) => (
        <ForestPanel key={`${p.row}-${p.col}`} panel={p} />
      ))}
      <svg width={1368} height={1030} style={{ position: 'absolute', left: 0, top: 0, pointerEvents: 'none' }}>
        {columnTitles.map((t, i) => (
          <text key={t} x={colTitleX[i]} y={34} textAnchor="middle" fontFamily={LABEL_FONT} fontSize={28} fill="#000">
            {t}
          </text>
        ))}
        {rowBox.map((b, i) => (
          <g key={rowLetters[i]}>
            <text x={17} y={b.letterY} fontFamily={TICK_FONT} fontWeight="bold" fontSize={29} fill="#000">
              {rowLetters[i]}
            </text>
            {rowTitles[i].map((line, j) => (
              <text
                key={line}
                transform={`translate(${33 + j * 39}, ${b.titleY}) rotate(-90)`}
                textAnchor="middle"
                fontFamily={LABEL_FONT}
                fontSize={29}
                fill="#000"
              >
                {line}
              </text>
            ))}
          </g>
        ))}
        {noFitText.map((line, j) => (
          <text key={line} x={269} y={508 + j * 40} textAnchor="middle" fontFamily={LABEL_FONT} fontSize={30} fill="#000">
            {line}
          </text>
        ))}
        <text x={720} y={1024} textAnchor="middle" fontFamily={LABEL_FONT} fontSize={30} fill="#000">
          {xLabel}
        </text>
      </svg>
    </div>
  );
}
